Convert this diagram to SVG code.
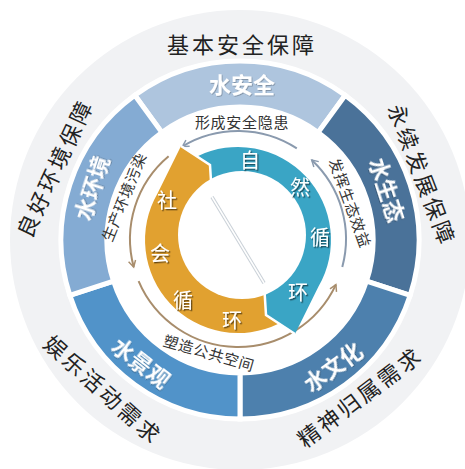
<svg xmlns="http://www.w3.org/2000/svg" width="465" height="469" viewBox="0 0 465 469">
<defs>
<style>
.seg{stroke:#ffffff;stroke-width:5;stroke-linejoin:miter}
.sl{font-family:"Noto Sans CJK SC",sans-serif;font-size:22px;font-weight:bold;fill:#ffffff;text-anchor:middle}
.ol{font-family:"Noto Sans CJK SC",sans-serif;font-size:22px;fill:#222222;text-anchor:middle;letter-spacing:3px}
.al{font-family:"Noto Sans CJK SC",sans-serif;font-size:15px;fill:#333333;text-anchor:middle;letter-spacing:0.7px}
.cl{font-family:"Noto Sans CJK SC",sans-serif;font-size:20px;fill:#ffffff;text-anchor:middle}
.ag{fill:none;stroke:#8a9aae;stroke-width:2}
.at{fill:none;stroke:#a88d6c;stroke-width:2}
</style>
<filter id="sh" x="-30%" y="-30%" width="160%" height="160%">
<feDropShadow dx="1.3" dy="1.3" stdDeviation="0.6" flood-color="#000000" flood-opacity="0.55"/>
</filter>
<filter id="sh2" x="-30%" y="-30%" width="160%" height="160%">
<feDropShadow dx="0.8" dy="0.8" stdDeviation="0.6" flood-color="#000000" flood-opacity="0.3"/>
</filter>
<marker id="mg" viewBox="0 0 10 10" refX="8" refY="5" markerWidth="9" markerHeight="9" orient="auto" markerUnits="userSpaceOnUse">
<path d="M1,1 L8,5 L1,9" fill="none" stroke="#8a9aae" stroke-width="1.6"/>
</marker>
<marker id="mt" viewBox="0 0 10 10" refX="8" refY="5" markerWidth="9" markerHeight="9" orient="auto" markerUnits="userSpaceOnUse">
<path d="M1,1 L8,5 L1,9" fill="none" stroke="#a88d6c" stroke-width="1.6"/>
</marker>
</defs>
<rect width="465" height="469" fill="#ffffff"/>
<g id="outer-ring">
<circle cx="240" cy="240" r="230" fill="#f1f2f4"/>
<circle cx="240" cy="240" r="181" fill="#ffffff"/>
<text class="ol" x="242" y="53.4">基本安全保障</text>
<text class="ol" transform="translate(422,175) rotate(69)" y="8.4">永续发展保障</text>
<text class="ol" transform="translate(360,397) rotate(-37)" y="8.4">精神归属需求</text>
<text class="ol" transform="translate(103,390) rotate(42)" y="8.4">娱乐活动需求</text>
<text class="ol" transform="translate(55,168) rotate(-65)" y="8.4">良好环境保障</text>
</g>
<g id="seg-anquan">
<path class="seg" fill="#aec5de" d="M134.8,95.2 A179,179 0 0 1 345.2,95.2 L318.2,132.4 A133,133 0 0 0 161.8,132.4 Z"/>
<text class="sl" filter="url(#sh2)" transform="translate(242,85)" y="8.4">水安全</text>
</g>
<g id="seg-shengtai">
<path class="seg" fill="#4a7299" d="M345.2,95.2 A179,179 0 0 1 410.2,295.3 L366.5,281.1 A133,133 0 0 0 318.2,132.4 Z"/>
<text class="sl" filter="url(#sh2)" transform="translate(387,190) rotate(72)" y="8.4">水生态</text>
</g>
<g id="seg-wenhua">
<path class="seg" fill="#4d80ad" d="M410.2,295.3 A179,179 0 0 1 240,419 L240,373 A133,133 0 0 0 366.5,281.1 Z"/>
<text class="sl" filter="url(#sh2)" transform="translate(333,367) rotate(-36)" y="8.4">水文化</text>
</g>
<g id="seg-jingguan">
<path class="seg" fill="#5193c9" d="M240,419 A179,179 0 0 1 69.8,295.3 L113.5,281.1 A133,133 0 0 0 240,373 Z"/>
<text class="sl" filter="url(#sh2)" transform="translate(141,363) rotate(38)" y="8.4">水景观</text>
</g>
<g id="seg-huanjing">
<path class="seg" fill="#84abd3" d="M69.8,295.3 A179,179 0 0 1 134.8,95.2 L161.8,132.4 A133,133 0 0 0 113.5,281.1 Z"/>
<text class="sl" filter="url(#sh2)" transform="translate(92,188) rotate(-72)" y="8.4">水环境</text>
</g>
<g id="connectors">
<path class="ag" marker-end="url(#mg)" d="M296.8,148.4 A108,108 0 0 0 182.4,146.4"/>
<path class="ag" marker-end="url(#mg)" d="M342.3,266.9 A108,108 0 0 0 311.7,160"/>
<path class="at" marker-end="url(#mt)" d="M168.6,156.3 A108,108 0 0 0 133.7,267"/>
<path class="at" marker-end="url(#mt)" d="M138.6,281.2 A108,108 0 0 0 335.9,284.6"/>
<text class="al" x="242" y="127.7">形成安全隐患</text>
<text class="al" transform="translate(350,203) rotate(70)" y="5.7">发挥生态效益</text>
<text class="al" transform="translate(124,197) rotate(-68)" y="5.7">生产环境污染</text>
<text class="al" transform="translate(209,353) rotate(16)" y="5.7">塑造公共空间</text>
</g>
<g id="cycle-social">
<path fill="#e1a130" d="M279,323.5 A93,93 0 0 1 157.5,193.5 L181,146 L210,165 L212,197 L264,283 L266,315 Z"/>
</g>
<g id="cycle-natural">
<path fill="#3aa5c5" d="M197,156.5 A93,93 0 0 1 318.5,286.5 L295,334 L266,315 L264,283 L212,197 L210,165 Z"/>
</g>
<g id="cycle-center">
<circle cx="242" cy="235" r="64" fill="#ffffff"/>
<polyline points="181,146 210,165 212,197" fill="none" stroke="#ffffff" stroke-width="2.5"/>
<polyline points="264,283 266,315 295,334" fill="none" stroke="#ffffff" stroke-width="2.5"/>
<line x1="212" y1="197" x2="264" y2="283" stroke="#c9d0d7" stroke-width="3.5"/>
<line x1="212" y1="197" x2="264" y2="283" stroke="#ffffff" stroke-width="1.5"/>
</g>
<g id="cycle-labels">
<text class="cl" filter="url(#sh)" x="250" y="167.6">自</text>
<text class="cl" filter="url(#sh)" x="300" y="194.6">然</text>
<text class="cl" filter="url(#sh)" x="320" y="244.6">循</text>
<text class="cl" filter="url(#sh)" x="298" y="299.6">环</text>
<text class="cl" filter="url(#sh)" x="167" y="207.6">社</text>
<text class="cl" filter="url(#sh)" x="160" y="260.6">会</text>
<text class="cl" filter="url(#sh)" x="183" y="307.6">循</text>
<text class="cl" filter="url(#sh)" x="232" y="327.6">环</text>
</g>
</svg>
